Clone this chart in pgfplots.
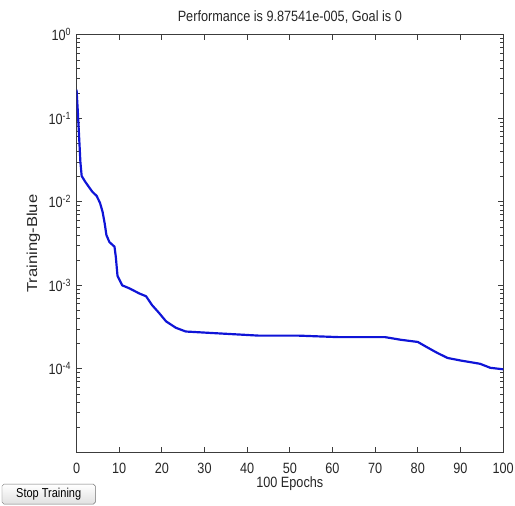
\documentclass[border=0pt]{standalone}
\usepackage{fontspec}
\setmainfont{Liberation Sans}[FakeStretch=0.85]
\newfontfamily\ylfont{Liberation Sans}[FakeStretch=1.15]
\usepackage{pgfplots}
\pgfplotsset{compat=1.18}
\definecolor{lineblue}{RGB}{15,20,215}
\definecolor{axgray}{RGB}{60,60,60}
\begin{document}
\begin{tikzpicture}[x=1pt,y=1pt]
\begin{axis}[
  name=ax,
  scale only axis,
  width=429pt, height=420pt,
  ymode=log,
  xmin=0, xmax=100, ymin=1e-5, ymax=1,
  xtick={0,10,...,100},
  ytick={1e-5,1e-4,1e-3,1e-2,1e-1,1},
  yticklabels={,10\textsuperscript{-4},10\textsuperscript{-3},10\textsuperscript{-2},10\textsuperscript{-1},10\textsuperscript{0}},
  minor ytick={2e-5,3e-5,4e-5,5e-5,6e-5,7e-5,8e-5,9e-5,
               2e-4,3e-4,4e-4,5e-4,6e-4,7e-4,8e-4,9e-4,
               2e-3,3e-3,4e-3,5e-3,6e-3,7e-3,8e-3,9e-3,
               2e-2,3e-2,4e-2,5e-2,6e-2,7e-2,8e-2,9e-2,
               2e-1,3e-1,4e-1,5e-1,6e-1,7e-1,8e-1,9e-1},
  tick align=inside,
  major tick length=5pt,
  minor tick length=3pt,
  every tick/.style={axgray, line width=0.8pt},
  axis line style={axgray, line width=1pt},
  /pgf/number format/assume math mode=true,
  tick label style={font=\fontsize{15}{17}\selectfont, text=black!85},
  xticklabel style={anchor=base, yshift=-21pt},
  yticklabel style={anchor=east, xshift=-2pt},
  xlabel={100 Epochs},
  xlabel style={font=\fontsize{15}{17}\selectfont, text=black!85, at={(0.5,0)}, anchor=base, yshift=-35pt},
  ylabel={Training-Blue},
  ylabel style={font=\ylfont\fontsize{14.5}{17}\selectfont, text=black!85, at={(0,0.5)}, anchor=south, yshift=33pt},
  title={Performance is 9.87541e-005, Goal is 0},
  title style={font=\fontsize{15}{17}\selectfont, text=black!85, at={(0.5,1)}, anchor=base, yshift=7pt},
  clip=true,
]
\addplot[lineblue, line width=2.2pt, line join=round] coordinates {
(0,0.22) (0.3,0.12) (0.6,0.06) (0.9,0.03) (1.2,0.0204) (2,0.0175) (3,0.0148)
(3.7,0.0132) (4.7,0.0118) (5.5,0.0097) (6.1,0.0076) (6.6,0.0055) (7,0.0040)
(7.7,0.0033) (8.9,0.0029) (9.2,0.0022) (9.6,0.0013) (10.7,0.00100)
(12.4,0.00092) (14.7,0.00080) (16.3,0.00074) (17.7,0.00058) (19.3,0.00047)
(21,0.00037) (23.3,0.00031) (25.6,0.00028) (31,0.00027) (42.7,0.00025)
(52,0.00025) (61.3,0.00024) (72.3,0.00024) (76,0.000223) (80,0.00021)
(82.3,0.00018) (84.6,0.000155) (87,0.000135) (90,0.000126) (94.6,0.000115)
(97,0.000103) (100,0.0000988)
};
\end{axis}
\node[draw=black!55, rounded corners=2pt, top color=white, bottom color=black!12,
      minimum width=94pt, minimum height=20pt, inner sep=0pt,
      font=\fontsize{13}{15}\selectfont]
  at ([shift={(-28pt,-42pt)}]ax.south west) {Stop Training};
\pgfresetboundingbox
\path ([shift={(-77pt,-53pt)}]ax.south west) rectangle ([shift={(12pt,35pt)}]ax.north east);
\end{tikzpicture}
\end{document}
